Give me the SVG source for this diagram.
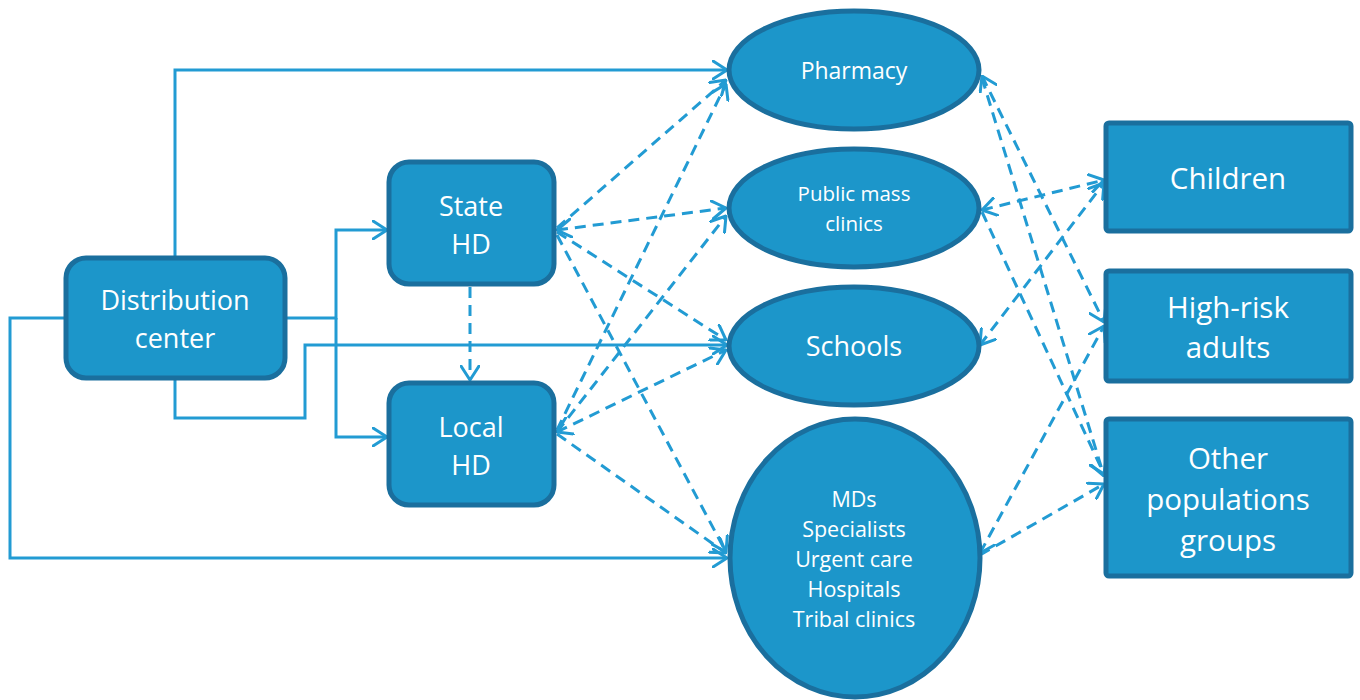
<svg xmlns="http://www.w3.org/2000/svg" width="1360" height="700" viewBox="0 0 1360 700">
  <defs>
    <marker id="arrow" viewBox="0 0 16 20" refX="15" refY="10" markerWidth="16" markerHeight="20" markerUnits="userSpaceOnUse" orient="auto-start-reverse">
      <path d="M1,1 L15,10 L1,19" fill="none" stroke="#229bd3" stroke-width="3" stroke-linecap="round" stroke-linejoin="round"/>
    </marker>
    <style>
      .box { fill: #1c96ca; stroke: #1a6f9e; stroke-width: 5; }
      .solid { fill: none; stroke: #229bd3; stroke-width: 3; marker-end: url(#arrow); }
      .dash { fill: none; stroke: #229bd3; stroke-width: 3; stroke-dasharray: 11 7; marker-end: url(#arrow); }
      .both { marker-start: url(#arrow); }
      text { fill: #ffffff; font-family: "Open Sans", "Liberation Sans", sans-serif; text-anchor: middle; }
    </style>
  </defs>

  <g id="connectors">
    <!-- solid supply lines from the distribution center -->
    <path class="solid" d="M175,258 V70 H727"/>
    <path class="solid" d="M285,318 H336 V230 H387"/>
    <path class="solid" d="M336,318 V437 H387" />
    <path class="solid" d="M175,378 V418 H305 V345 H727"/>
    <path class="solid" d="M66,318 H10 V558 H727"/>

    <!-- state health department links -->
    <path class="dash" d="M470,287 V380"/>
    <path class="dash" d="M557,228 L726,80"/>
    <path class="dash both" d="M557,230 L726,208"/>
    <path class="dash" d="M557,232 L726,340"/>
    <path class="dash" d="M557,235 L726,552"/>

    <!-- local health department links -->
    <path class="dash" d="M557,430 L726,84"/>
    <path class="dash" d="M557,432 L726,216"/>
    <path class="dash both" d="M557,432 L726,350"/>
    <path class="dash" d="M557,434 L726,553"/>

    <!-- provider to population links -->
    <path class="dash both" d="M982,76 L1104,322"/>
    <path class="dash" d="M982,78 L1104,476"/>
    <path class="dash both" d="M982,210 L1104,180"/>
    <path class="dash" d="M982,212 L1104,474"/>
    <path class="dash both" d="M980,345 L1104,183"/>
    <path class="dash both" d="M980,553 L1104,326"/>
    <path class="dash" d="M980,555 L1104,484"/>
  </g>

  <g id="distribution-center">
    <rect class="box" x="66" y="258" width="219" height="120" rx="20"/>
    <text x="175" y="310" font-size="27">Distribution</text>
    <text x="175" y="348" font-size="27">center</text>
  </g>

  <g id="state-hd">
    <rect class="box" x="389" y="162" width="165" height="122" rx="20"/>
    <text x="471" y="216" font-size="27">State</text>
    <text x="471" y="254" font-size="27">HD</text>
  </g>

  <g id="local-hd">
    <rect class="box" x="389" y="383" width="165" height="122" rx="20"/>
    <text x="471" y="437" font-size="27">Local</text>
    <text x="471" y="475" font-size="27">HD</text>
  </g>

  <g id="pharmacy">
    <ellipse class="box" cx="854" cy="70" rx="125" ry="59"/>
    <text x="854" y="79" font-size="23">Pharmacy</text>
  </g>

  <g id="public-mass-clinics">
    <ellipse class="box" cx="854" cy="208" rx="125" ry="59"/>
    <text x="854" y="201" font-size="20.5">Public mass</text>
    <text x="854" y="231" font-size="20.5">clinics</text>
  </g>

  <g id="schools">
    <ellipse class="box" cx="854" cy="346" rx="125" ry="59"/>
    <text x="854" y="356" font-size="27">Schools</text>
  </g>

  <g id="providers">
    <ellipse class="box" cx="855" cy="558" rx="125" ry="139"/>
    <text x="854" y="507" font-size="21.5">MDs</text>
    <text x="854" y="537" font-size="21.5">Specialists</text>
    <text x="854" y="567" font-size="21.5">Urgent care</text>
    <text x="854" y="597" font-size="21.5">Hospitals</text>
    <text x="854" y="627" font-size="21.5">Tribal clinics</text>
  </g>

  <g id="children">
    <rect class="box" x="1106" y="123" width="245" height="108" rx="3"/>
    <text x="1228" y="189" font-size="29.5">Children</text>
  </g>

  <g id="high-risk-adults">
    <rect class="box" x="1106" y="271" width="245" height="110" rx="3"/>
    <text x="1228" y="318" font-size="29.5">High-risk</text>
    <text x="1228" y="358" font-size="29.5">adults</text>
  </g>

  <g id="other-populations">
    <rect class="box" x="1106" y="419" width="245" height="157" rx="3"/>
    <text x="1228" y="469" font-size="29.5">Other</text>
    <text x="1228" y="510" font-size="29.5">populations</text>
    <text x="1228" y="551" font-size="29.5">groups</text>
  </g>
</svg>
